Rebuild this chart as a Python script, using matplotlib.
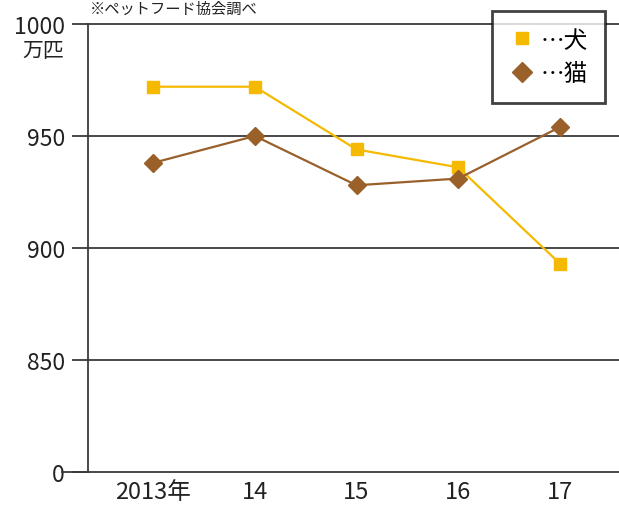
import matplotlib
matplotlib.use("Agg")
import matplotlib.pyplot as plt
from matplotlib.lines import Line2D

plt.rcParams['font.family'] = ['Noto Sans CJK JP', 'DejaVu Sans']

years = ["2013年", "14", "15", "16", "17"]
dogs = [972, 972, 944, 936, 893]
cats = [938, 950, 928, 931, 954]
ytick_vals = [800, 850, 900, 950, 1000]
ytick_labels = ["0", "850", "900", "950", "1000"]

dog_color = "#F5BA00"
cat_color = "#99602A"
axis_color = "#3a3a3a"
text_color = "#222222"
FS = 16.5

W, H = 619, 506
fig = plt.figure(figsize=(W / 100, H / 100), dpi=100)
ax = fig.add_axes([88 / W, (H - 473) / H, 1 - 88 / W, (473 - 25) / H])

x = list(range(len(years)))
ax.plot(x, dogs, color=dog_color, lw=1.6, marker='s', ms=9, zorder=3)
ax.plot(x, cats, color=cat_color, lw=1.6, marker='D', ms=9, zorder=4)

ax.set_xlim(-0.64, 4.58)
ax.set_ylim(800, 1000)
ax.set_xticks(x)
ax.set_xticklabels(years, fontsize=FS + 0.5, color=text_color)
ax.tick_params(axis='x', length=0, pad=6)
ax.set_yticks(ytick_vals)
ax.set_yticklabels(ytick_labels, fontsize=FS, color=text_color)
ax.tick_params(axis='y', direction='out', length=11.5, width=1.3, color=axis_color, pad=5)
ax.get_yticklabels()[-1].set_va('center_baseline')
ax.annotate("万匹", xy=(0, 1000), xycoords=('axes fraction', 'data'),
            xytext=(-17, -11), textcoords='offset points', ha='right', va='top',
            fontsize=FS - 1.5, color=text_color)

for v in ytick_vals[1:]:
    ax.axhline(v, color=axis_color, lw=1.3, zorder=1, clip_on=False)
for s in ['top', 'right']:
    ax.spines[s].set_visible(False)
ax.spines['left'].set_color(axis_color)
ax.spines['left'].set_linewidth(1.3)
ax.spines['bottom'].set_color(axis_color)
ax.spines['bottom'].set_linewidth(1.3)
fig.add_artist(Line2D([62 / W, 88 / W], [(H - 473) / H] * 2, color=axis_color, lw=1.3))

handles = [
    Line2D([], [], ls='none', marker='s', ms=9, color=dog_color),
    Line2D([], [], ls='none', marker='D', ms=10, color=cat_color),
]
leg = fig.legend(handles, ["…犬", "…猫"], loc='upper left',
                 bbox_to_anchor=(492 / W, 1 - 12 / H), fontsize=FS + 0.5,
                 frameon=True, fancybox=False, borderpad=0.75, borderaxespad=0,
                 handletextpad=0.3, handlelength=1.0, labelspacing=0.45)
leg.get_frame().set_edgecolor("#111111")
leg.get_frame().set_linewidth(2)

fig.text(90 / W, 1 - 1 / H, "※ペットフード協会調べ", fontsize=11, va='top', ha='left', color=text_color)

fig.savefig("out.png", dpi=100)
